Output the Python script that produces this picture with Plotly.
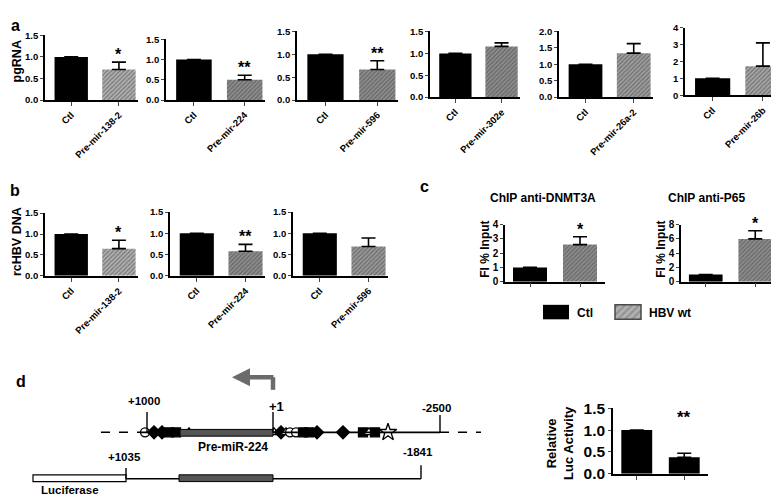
import plotly.graph_objects as go

W, H = 779, 498
FONT = "Liberation Sans, Arial, sans-serif"

# ------------------------- data -------------------------
ctl_label = "Ctl"

a_labels = ["Pre-mir-138-2", "Pre-mir-224", "Pre-mir-596", "Pre-mir-302e", "Pre-mir-26a-2", "Pre-mir-26b"]
a_ctl = [1.0, 1.0, 1.0, 1.0, 1.0, 1.0]
a_pre = [0.71, 0.50, 0.67, 1.16, 1.34, 1.72]
a_err = [0.17, 0.11, 0.19, 0.08, 0.29, 1.38]
a_sig = ["*", "**", "**", "", "", ""]
a_ymax = [1.5, 1.5, 1.5, 1.5, 2.0, 4.0]
a_dtick = [0.5, 0.5, 0.5, 0.5, 0.5, 1]

b_labels = ["Pre-mir-138-2", "Pre-mir-224", "Pre-mir-596"]
b_ctl = [1.0, 1.0, 1.0]
b_pre = [0.65, 0.58, 0.69]
b_err = [0.20, 0.16, 0.20]
b_sig = ["*", "**", ""]

c_titles = ["ChIP anti-DNMT3A", "ChIP anti-P65"]
c_groups = ["Ctl", "HBV wt"]
c_ctl = [1.0, 1.0]
c_hbv = [2.6, 6.0]
c_err = [0.55, 1.15]
c_sig = ["*", "*"]
c_ymax = [4, 8]
c_dtick = [1, 2]

d_groups = ["Ctl", "Pre-miR-224"]
d_vals = [1.0, 0.38]
d_err = [0.0, 0.09]
d_sig = "**"

# schematic of the miR-224 locus (schematic units)
site_pos = [137, 146, 154, 161, 168, 181, 266, 273, 278, 282, 288, 295, 301, 309, 335, 355, 361, 367, 380]
site_kind = ["circle", "diamond", "diamond", "square", "square", "triangle-up",
             "triangle-up", "diamond", "triangle-up", "circle", "circle", "square",
             "square", "diamond", "diamond", "square", "triangle-up", "square", "star"]
locus_marks = ["+1000", "+1", "-2500"]
construct_marks = ["+1035", "-1841"]

# ------------------------- layout helpers -------------------------
fig = go.Figure()
layout = {}
annotations = []
shapes = []


def fx(x):
    return x / W


def fy(y):
    return 1 - y / H


def bold_font(size, color="black"):
    return dict(family=FONT, size=size, color=color, weight="bold")


def add_panel(n, box, cats, vals, errs, colors, fg, ymax, dtick, fmt,
              show_xlabels, xrange, bwidth, tick_size=9.5, xlab_size=9.5, sig="",
              sig_shift=-3, sig_size=16):
    x0, x1, yt, yb = box
    xa, ya = f"x{n}", f"y{n}"
    fig.add_trace(go.Bar(
        x=cats, y=vals, xaxis=xa, yaxis=ya, width=bwidth, showlegend=False,
        marker=dict(color=colors, line=dict(width=0),
                    pattern=dict(shape=["" if c == "black" else "/" for c in colors],
                                 fgcolor=fg, size=3, solidity=0.45)),
        error_y=dict(type="data", symmetric=False, array=errs,
                     arrayminus=[0] * len(errs), color="black", thickness=1.6, width=7),
    ))
    layout[f"xaxis{n}"] = dict(
        domain=[fx(x0), fx(x1)], anchor=ya, range=xrange, type="category",
        showline=True, linecolor="black", linewidth=1.6, ticks="outside",
        ticklen=4, tickwidth=1.4, showgrid=False, zeroline=False,
        showticklabels=show_xlabels, tickangle=-45, tickfont=bold_font(xlab_size),
        fixedrange=True,
    )
    layout[f"yaxis{n}"] = dict(
        domain=[fy(yb), fy(yt)], anchor=xa, range=[0, ymax], dtick=dtick,
        tickformat=fmt, showline=True, linecolor="black", linewidth=1.6,
        ticks="outside", ticklen=3, tickwidth=1.4, showgrid=False, zeroline=False,
        tickfont=bold_font(tick_size), fixedrange=True,
    )
    if sig:
        annotations.append(dict(
            x=1, y=vals[1] + errs[1], xref=xa, yref=ya, text=sig, showarrow=False,
            yanchor="bottom", yshift=sig_shift, font=bold_font(sig_size)))


# ------------------------- panel a -------------------------
a_boxes = [(37, 130, 19, 86), (158, 257, 23, 86), (289, 390, 15, 86),
           (422, 512, 15, 83), (551, 645, 15, 83), (677, 775, 11, 81)]
a_tone = ["#b3b3b3", "#8f8f8f", "#8f8f8f", "#8f8f8f", "#a0a0a0", "#a8a8a8"]
n = 1
for i in range(6):
    add_panel(n, a_boxes[i], [ctl_label, a_labels[i]], [a_ctl[i], a_pre[i]],
              [0, a_err[i]], ["black", a_tone[i]], "#6a6a6a", a_ymax[i], a_dtick[i],
              ".1f" if a_dtick[i] < 1 else "d", True, [-0.55, 1.4], 0.7, sig=a_sig[i])
    n += 1

# ------------------------- panel b -------------------------
b_boxes = [(37, 130, 203, 268), (162, 257, 202, 268), (285, 380, 202, 268)]
b_tone = ["#b3b3b3", "#8f8f8f", "#9a9a9a"]
for i in range(3):
    add_panel(n, b_boxes[i], [ctl_label, b_labels[i]], [b_ctl[i], b_pre[i]],
              [0, b_err[i]], ["black", b_tone[i]], "#6a6a6a", 1.5, 0.5, ".1f",
              True, [-0.55, 1.4], 0.7, sig=b_sig[i])
    n += 1

# ------------------------- panel c -------------------------
c_boxes = [(497, 597, 215, 274), (673, 772, 215, 274)]
for i in range(2):
    add_panel(n, c_boxes[i], c_groups, [c_ctl[i], c_hbv[i]], [0, c_err[i]],
              ["black", "#8f8f8f"], "#5e5e5e", c_ymax[i], c_dtick[i], "d",
              False, [-0.5, 1.5], 0.68, tick_size=10, sig=c_sig[i])
    n += 1

# ------------------------- panel d bars -------------------------
add_panel(n, (605, 700, 405, 473), d_groups, d_vals, d_err, ["black", "black"],
          "black", 1.5, 0.5, ".1f", False, [-0.5, 1.5], 0.65, tick_size=15.5,
          sig=d_sig, sig_shift=24, sig_size=17)
n += 1

# ------------------------- overlay (diagram + legend) -------------------------
N = n
ox, oy = f"x{N}", f"y{N}"
layout[f"xaxis{N}"] = dict(domain=[0, 1], range=[0, W], visible=False, anchor=oy, fixedrange=True)
layout[f"yaxis{N}"] = dict(domain=[0, 1], range=[H, 0], visible=False, anchor=ox, fixedrange=True)

# legend swatches for panel c
fig.add_trace(go.Bar(x=[548], y=[15], base=[298], width=[26], xaxis=ox, yaxis=oy,
                     showlegend=False, marker=dict(color="black", line=dict(width=0))))
fig.add_trace(go.Bar(x=[620], y=[15], base=[298], width=[26], xaxis=ox, yaxis=oy,
                     showlegend=False,
                     marker=dict(color="#b0b0b0", line=dict(color="#4a4a4a", width=1.5),
                                 pattern=dict(shape="/", fgcolor="#707070", size=5, solidity=0.4))))


def line(x0, y0, x1, y1, width=1.4, dash="solid", color="black"):
    shapes.append(dict(type="line", xref=ox, yref=oy, x0=x0, y0=y0, x1=x1, y1=y1,
                       line=dict(color=color, width=width, dash=dash)))


def rect(x0, y0, x1, y1, fill, lw=1.2):
    shapes.append(dict(type="rect", xref=ox, yref=oy, x0=x0, y0=y0, x1=x1, y1=y1,
                       fillcolor=fill, line=dict(color="black", width=lw)))


# locus line
line(93, 430, 133, 430, dash="dash")
line(133, 430, 432, 430, width=1.8)
line(432, 430, 473, 430, dash="dash")
rect(172, 427, 265, 434, "#555555", lw=1)
line(139, 409, 139, 430)
line(265, 409, 265, 430)
line(432, 412, 432, 430)

# construct
rect(25, 474, 118, 481, "white")
line(118, 478, 413, 478)
rect(171, 474, 265, 481, "#555555", lw=1)
line(118, 467, 118, 478)
line(413, 464, 413, 478)

# TSS arrow
line(265, 373, 265, 386, width=4.5, color="#6b6b6b")
annotations.append(dict(x=224, y=373, ax=267, ay=373, xref=ox, yref=oy, axref=ox, ayref=oy,
                        text="", showarrow=True, arrowhead=2, arrowsize=0.8,
                        arrowwidth=4.5, arrowcolor="#6b6b6b"))

# binding site symbols
fills = ["#000000" if k in ("diamond", "square") else "white" for k in site_kind]
sizes = [13 if k == "star" else (10 if k == "diamond" else 9) for k in site_kind]
fig.add_trace(go.Scatter(
    x=site_pos, y=[430] * len(site_pos), xaxis=ox, yaxis=oy, mode="markers",
    showlegend=False, hoverinfo="skip",
    marker=dict(symbol=site_kind, color=fills, size=sizes, opacity=1,
                line=dict(color="black", width=1.3))))

# ------------------------- texts -------------------------
def text(x, y, s, size, angle=0, xanchor="center"):
    annotations.append(dict(x=fx(x), y=fy(y), xref="paper", yref="paper", text=s,
                            showarrow=False, textangle=angle, xanchor=xanchor,
                            yanchor="middle", font=bold_font(size)))


text(7, 9, "a", 16)
text(7, 180, "b", 16)
text(416, 176, "c", 16)
text(13, 377, "d", 16)

text(9, 46, "pgRNA", 12.5, angle=-90)
text(9, 233, "rcHBV DNA", 12.5, angle=-90)
text(477, 241, "FI % Input", 12, angle=-90)
text(653, 241, "FI % Input", 12, angle=-90)
text(552, 441, "Relative<br>Luc Activity", 13, angle=-90)

text(535, 187, c_titles[0], 12)
text(698, 187, c_titles[1], 12)

text(567, 306, c_groups[0], 12, xanchor="left")
text(639, 306, c_groups[1], 12, xanchor="left")

text(136, 398, locus_marks[0], 11.5)
text(268, 403, locus_marks[1], 13)
text(428, 405, locus_marks[2], 11.5)
text(225, 445, "Pre-miR-224", 12)
text(116, 456, construct_marks[0], 11.5)
text(410, 450, construct_marks[1], 11.5)
text(62, 490, "Luciferase", 11.5)

layout.update(dict(
    width=W, height=H, margin=dict(l=0, r=0, t=0, b=0), autosize=False,
    paper_bgcolor="white", plot_bgcolor="rgba(0,0,0,0)",
    annotations=annotations, shapes=shapes, barmode="overlay",
    font=dict(family=FONT), showlegend=False,
))
fig.update_layout(**layout)
fig.write_html("out.html", config=dict(displayModeBar=False))
